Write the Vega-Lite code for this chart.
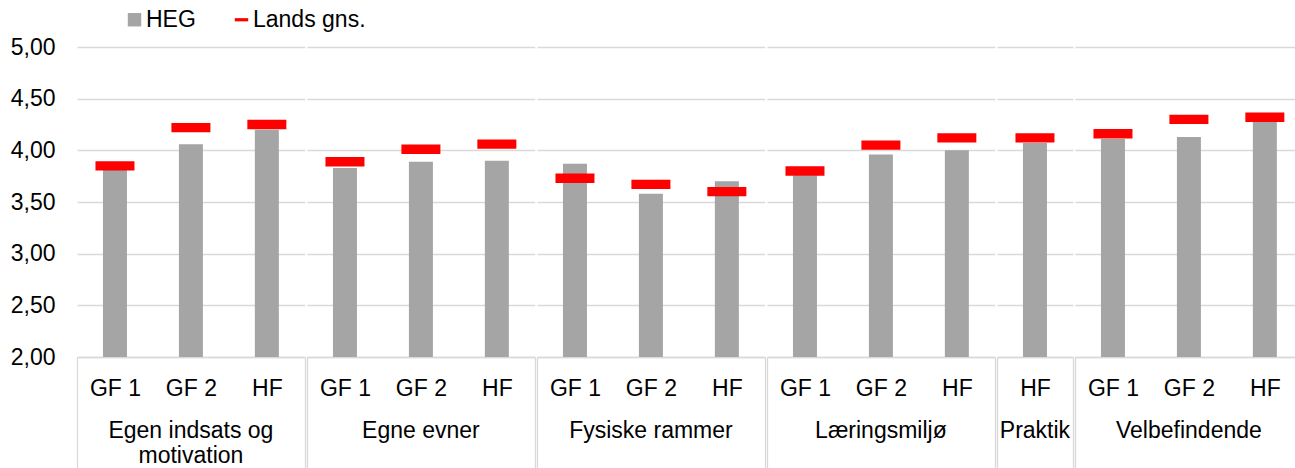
{
  "$schema": "https://vega.github.io/schema/vega-lite/v6.json",
  "padding": {"left": 10, "top": 8, "right": 2, "bottom": 0},
  "background": "white",
  "data": {"values": [
    {"group": "Egen indsats og motivation", "sub": "GF 1", "series": "HEG", "value": 3.81},
    {"group": "Egen indsats og motivation", "sub": "GF 1", "series": "Lands gns.", "value": 3.85},
    {"group": "Egen indsats og motivation", "sub": "GF 2", "series": "HEG", "value": 4.06},
    {"group": "Egen indsats og motivation", "sub": "GF 2", "series": "Lands gns.", "value": 4.22},
    {"group": "Egen indsats og motivation", "sub": "HF", "series": "HEG", "value": 4.20},
    {"group": "Egen indsats og motivation", "sub": "HF", "series": "Lands gns.", "value": 4.25},
    {"group": "Egne evner", "sub": "GF 1", "series": "HEG", "value": 3.83},
    {"group": "Egne evner", "sub": "GF 1", "series": "Lands gns.", "value": 3.89},
    {"group": "Egne evner", "sub": "GF 2", "series": "HEG", "value": 3.89},
    {"group": "Egne evner", "sub": "GF 2", "series": "Lands gns.", "value": 4.01},
    {"group": "Egne evner", "sub": "HF", "series": "HEG", "value": 3.90},
    {"group": "Egne evner", "sub": "HF", "series": "Lands gns.", "value": 4.06},
    {"group": "Fysiske rammer", "sub": "GF 1", "series": "HEG", "value": 3.87},
    {"group": "Fysiske rammer", "sub": "GF 1", "series": "Lands gns.", "value": 3.73},
    {"group": "Fysiske rammer", "sub": "GF 2", "series": "HEG", "value": 3.58},
    {"group": "Fysiske rammer", "sub": "GF 2", "series": "Lands gns.", "value": 3.67},
    {"group": "Fysiske rammer", "sub": "HF", "series": "HEG", "value": 3.70},
    {"group": "Fysiske rammer", "sub": "HF", "series": "Lands gns.", "value": 3.60},
    {"group": "Læringsmiljø", "sub": "GF 1", "series": "HEG", "value": 3.76},
    {"group": "Læringsmiljø", "sub": "GF 1", "series": "Lands gns.", "value": 3.80},
    {"group": "Læringsmiljø", "sub": "GF 2", "series": "HEG", "value": 3.96},
    {"group": "Læringsmiljø", "sub": "GF 2", "series": "Lands gns.", "value": 4.05},
    {"group": "Læringsmiljø", "sub": "HF", "series": "HEG", "value": 4.00},
    {"group": "Læringsmiljø", "sub": "HF", "series": "Lands gns.", "value": 4.12},
    {"group": "Praktik", "sub": "HF", "series": "HEG", "value": 4.07},
    {"group": "Praktik", "sub": "HF", "series": "Lands gns.", "value": 4.12},
    {"group": "Velbefindende", "sub": "GF 1", "series": "HEG", "value": 4.11},
    {"group": "Velbefindende", "sub": "GF 1", "series": "Lands gns.", "value": 4.16},
    {"group": "Velbefindende", "sub": "GF 2", "series": "HEG", "value": 4.13},
    {"group": "Velbefindende", "sub": "GF 2", "series": "Lands gns.", "value": 4.30},
    {"group": "Velbefindende", "sub": "HF", "series": "HEG", "value": 4.28},
    {"group": "Velbefindende", "sub": "HF", "series": "Lands gns.", "value": 4.32}
  ]},
  "facet": {
    "column": {
      "field": "group", "type": "nominal",
      "sort": ["Egen indsats og motivation", "Egne evner", "Fysiske rammer", "Læringsmiljø", "Praktik", "Velbefindende"],
      "title": null,
      "header": {
        "labelOrient": "bottom",
        "labelFontSize": 23,
        "labelFont": "Liberation Sans",
        "labelColor": "#000000",
        "labelPadding": -49,
        "labelBaseline": "top",
        "labelLineHeight": 25,
        "labelExpr": "datum.value == 'Egen indsats og motivation' ? ['Egen indsats og', 'motivation'] : datum.value"
      }
    }
  },
  "spacing": 0,
  "resolve": {"scale": {"x": "independent"}},
  "spec": {
    "width": {"step": 75.94},
    "height": 310,
    "encoding": {
      "x": {
        "field": "sub", "type": "nominal", "sort": ["GF 1", "GF 2", "HF"],
        "scale": {"paddingInner": 0, "paddingOuter": 0},
        "axis": {
          "title": null, "labelAngle": 0, "labelFontSize": 23, "labelColor": "#000000",
          "labelPadding": -91, "domainColor": "#D9D9D9", "domainWidth": 1.3,
          "tickSize": 111, "tickColor": "#D9D9D9", "tickWidth": 1.3, "tickBand": "extent",
          "tickOpacity": {"condition": {"test": "datum.value == 'HF' || datum.index < 0", "value": 1}, "value": 0}
        }
      },
      "y": {
        "field": "value", "type": "quantitative",
        "scale": {"domain": [2, 5], "nice": false, "zero": false},
        "axis": {
          "title": null, "values": [2, 2.5, 3, 3.5, 4, 4.5, 5],
          "labelExpr": "replace(format(datum.value, '.2f'), '.', ',')",
          "labelFontSize": 23, "labelColor": "#000000", "labelPadding": 21,
          "domain": false, "ticks": false, "gridColor": "#D9D9D9", "gridWidth": 1.3
        }
      },
      "color": {
        "field": "series", "type": "nominal",
        "scale": {"domain": ["HEG", "Lands gns."], "range": ["#A5A5A5", "#FF0000"]},
        "legend": {
          "orient": "none", "legendX": 46, "legendY": -39, "direction": "horizontal", "title": null,
          "labelFontSize": 23, "labelColor": "#000000", "symbolSize": 180, "labelOffset": 0,
          "columnPadding": 34, "symbolStrokeWidth": 0, "padding": 0
        }
      }
    },
    "layer": [
      {
        "transform": [{"filter": "datum.series == 'HEG'"}],
        "mark": {"type": "bar", "width": {"band": 0.316}, "clip": true}
      },
      {
        "transform": [{"filter": "datum.series == 'Lands gns.'"}],
        "mark": {"type": "point", "filled": true, "opacity": 1, "size": 1521, "strokeWidth": 0},
        "encoding": {
          "shape": {
            "field": "series", "type": "nominal",
            "scale": {"domain": ["HEG", "Lands gns."], "range": ["square", "M-1,-0.24H1V0.24H-1Z"]},
            "legend": {
              "orient": "none", "legendX": 46, "legendY": -39, "direction": "horizontal", "title": null,
              "labelFontSize": 23, "labelColor": "#000000", "symbolSize": 180, "labelOffset": 0,
              "columnPadding": 34, "symbolStrokeWidth": 0, "padding": 0
            }
          }
        }
      }
    ]
  },
  "config": {"view": {"stroke": null}, "font": "Liberation Sans"}
}
